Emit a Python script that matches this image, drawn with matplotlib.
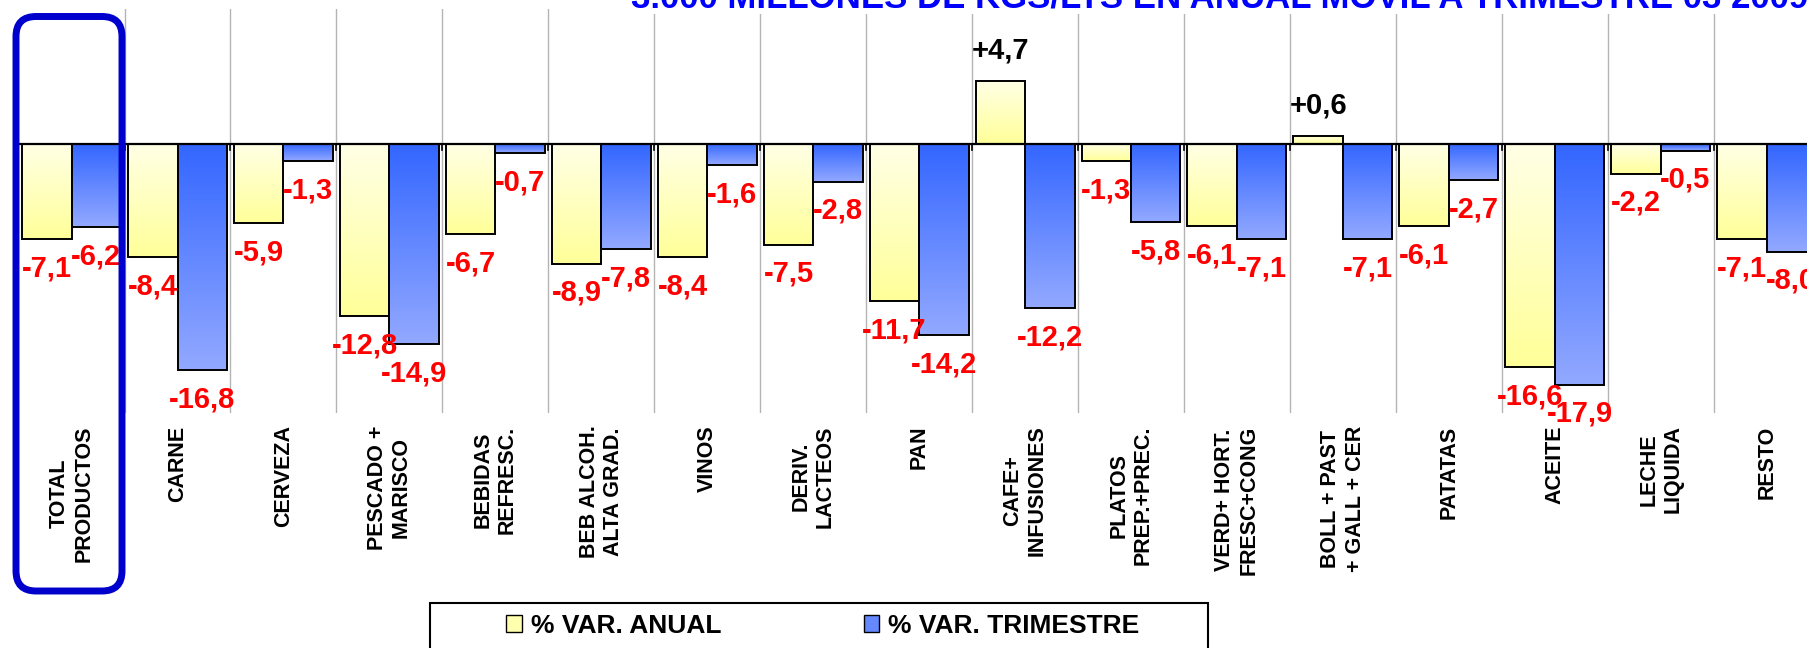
import numpy as np
import matplotlib
matplotlib.use('Agg')
import matplotlib.pyplot as plt
import matplotlib.patches as mpatches
from matplotlib.colors import LinearSegmentedColormap
from matplotlib.transforms import IdentityTransform

# data
categories = ['TOTAL\nPRODUCTOS', 'CARNE', 'CERVEZA', 'PESCADO +\nMARISCO',
              'BEBIDAS\nREFRESC.', 'BEB ALCOH.\nALTA GRAD.', 'VINOS',
              'DERIV.\nLACTEOS', 'PAN', 'CAFE+\nINFUSIONES', 'PLATOS\nPREP.+PREC.',
              'VERD+ HORT.\nFRESC+CONG', 'BOLL + PAST\n+ GALL + CER', 'PATATAS',
              'ACEITE', 'LECHE\nLIQUIDA', 'RESTO']
var_anual = [-7.1, -8.4, -5.9, -12.8, -6.7, -8.9, -8.4, -7.5, -11.7, 4.7,
             -1.3, -6.1, 0.6, -6.1, -16.6, -2.2, -7.1]
var_trimestre = [-6.2, -16.8, -1.3, -14.9, -0.7, -7.8, -1.6, -2.8, -14.2, -12.2,
                 -5.8, -7.1, -7.1, -2.7, -17.9, -0.5, -8.0]
series_names = ['% VAR. ANUAL', '% VAR. TRIMESTRE']
title = '3.000 MILLONES DE KGS/LTS EN ANUAL MOVIL A TRIMESTRE 03 2009'

W, H = 1807, 648
fig = plt.figure(figsize=(W / 100, H / 100), dpi=100)
fig.patch.set_facecolor('white')
ax = fig.add_axes([0.0103, 0.3627, 0.9967, 0.6228])

x = np.arange(len(categories))
bw = 0.467

cmap_y = LinearSegmentedColormap.from_list('yel', ['#FFFFE6', '#FFFF99'])
cmap_b = LinearSegmentedColormap.from_list('blu', ['#3366FF', '#93A9FF'])
grad = np.linspace(0, 1, 256).reshape(-1, 1)

bars_a = ax.bar(x - bw / 2, var_anual, bw, facecolor='none', edgecolor='black',
                linewidth=1.4, zorder=3)
bars_t = ax.bar(x + bw / 2, var_trimestre, bw, facecolor='none', edgecolor='black',
                linewidth=1.4, zorder=3)

# gradient fill inside each bar
for bars, cm in [(bars_a, cmap_y), (bars_t, cmap_b)]:
    for r in bars:
        y0, h = r.get_y(), r.get_height()
        lo, hi = min(y0, y0 + h), max(y0, y0 + h)
        ax.imshow(grad, extent=[r.get_x(), r.get_x() + r.get_width(), lo, hi],
                  origin='upper', aspect='auto', cmap=cm, zorder=2)

# value labels
for bars, vals in [(bars_a, var_anual), (bars_t, var_trimestre)]:
    for r, v in zip(bars, vals):
        txt = f"{v:+.1f}".replace('.', ',')
        off = 22 if v > 0 else -21
        ax.annotate(txt, (r.get_x() + r.get_width() / 2, v), xytext=(0, off),
                    textcoords='offset points', ha='center', va='center',
                    fontsize=21, fontweight='bold', family='Liberation Sans',
                    color='black' if v > 0 else '#FF0000', zorder=5)

# category separators and zero line
for b in x[:-1] + 0.5:
    ax.plot([b, b], [-20, 10], color='#B4B4B4', lw=1, zorder=1)
    ax.plot([b, b], [0, -0.45], color='black', lw=1.2, zorder=4)
ax.axhline(0, color='black', lw=1.6, zorder=4)

ax.set_xlim(-0.5, len(categories) - 0.5)
ax.set_ylim(-20, 10)
ax.set_yticks([])
ax.set_xticks(x)
ax.set_xticklabels(categories, rotation=90, ha='center', va='top',
                   multialignment='center', fontsize=15.5, fontweight='bold',
                   family='Liberation Sans')
ax.tick_params(axis='x', length=0, pad=9)
for s in ax.spines.values():
    s.set_visible(False)

# title (cut off at top in the original)
fig.text(631 / W, 1 - 7 / H, title, ha='left', va='baseline', fontsize=25,
         fontweight='bold', color='#0000FF', family='Liberation Sans',
         bbox=dict(facecolor='white', edgecolor='none', pad=0), zorder=6)

# rounded highlight around TOTAL
hl = mpatches.FancyBboxPatch((16, H - 591), 106, 574.5,
                             boxstyle='round,pad=0,rounding_size=20',
                             transform=IdentityTransform(), facecolor='none',
                             edgecolor='#0000CC', linewidth=5, zorder=10)
fig.add_artist(hl)

# legend
frame = mpatches.Rectangle((430, -5), 778, H - 603 + 5, transform=IdentityTransform(),
                           facecolor='white', edgecolor='black', linewidth=1.5, zorder=7)
fig.add_artist(frame)
handles = [mpatches.Patch(facecolor='#FFFFB0', edgecolor='black', label=series_names[0]),
           mpatches.Patch(facecolor='#6688FF', edgecolor='black', label=series_names[1])]
leg = fig.legend(handles=handles, loc='center left', bbox_to_anchor=(493 / W, 1 - 626 / H),
                 ncol=2, frameon=False, borderpad=0, handlelength=0.58, handleheight=0.58,
                 handletextpad=0.35, columnspacing=5.4,
                 prop=dict(family='Liberation Sans', weight='bold', size=19))
leg.set_zorder(8)

fig.savefig('out.png', dpi=100)
